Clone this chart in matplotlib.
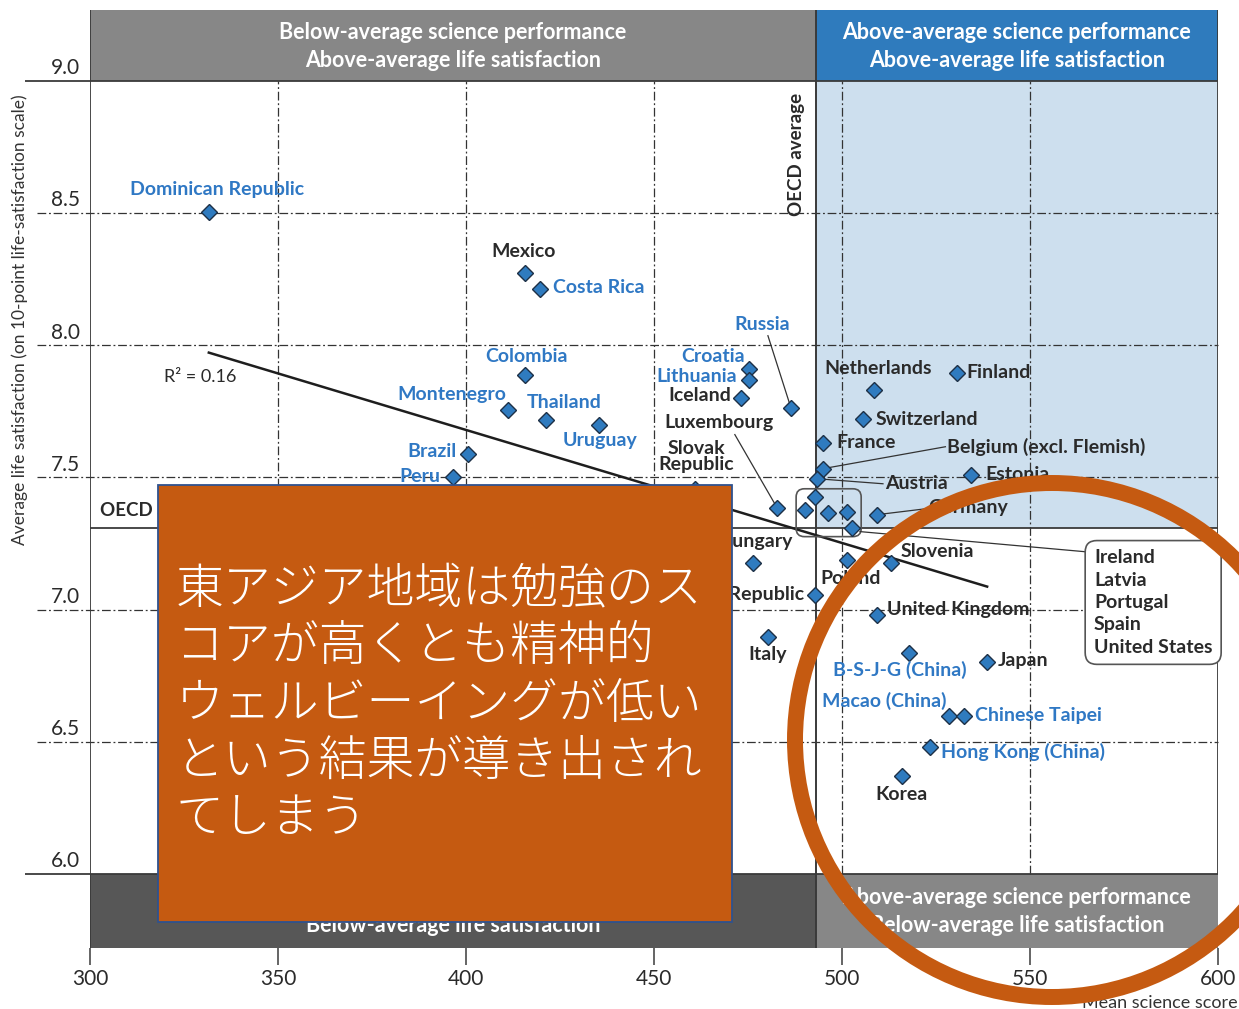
import matplotlib
matplotlib.use("Agg")
import matplotlib.pyplot as plt
from matplotlib.patches import Rectangle, Ellipse, FancyBboxPatch

plt.rcParams['font.family'] = ['Lato', 'DejaVu Sans']

# --- data (mean science score, average life satisfaction) ---
countries = ["Dominican Republic", "Mexico", "Costa Rica", "Colombia", "Montenegro",
             "Thailand", "Uruguay", "Brazil", "Peru", "Croatia", "Lithuania", "Iceland",
             "Russia", "Luxembourg", "Slovak Republic", "Hungary", "Czech Republic", "Italy",
             "Poland", "Slovenia", "Netherlands", "Finland", "Switzerland", "France",
             "Belgium (excl. Flemish)", "Austria", "Estonia", "Latvia", "Spain",
             "United States", "Portugal", "Ireland", "Germany", "United Kingdom",
             "B-S-J-G (China)", "Japan", "Macao (China)", "Chinese Taipei",
             "Hong Kong (China)", "Korea"]
science = [331.6, 415.7, 419.7, 415.7, 411.2,
           421.3, 435.4, 400.5, 396.5, 475.3, 475.3, 473.1,
           486.4, 482.7, 460.9, 476.3, 492.8, 480.3,
           501.3, 513.0, 508.5, 530.6, 505.6, 494.9,
           494.9, 493.4, 534.3, 490.2, 492.8,
           496.3, 501.3, 502.7, 509.3, 509.3,
           517.8, 538.6, 528.5, 532.4,
           523.4, 516.0]
satisfaction = [8.505, 8.274, 8.214, 7.888, 7.756,
                7.718, 7.699, 7.590, 7.503, 7.911, 7.870, 7.802,
                7.764, 7.386, 7.457, 7.178, 7.057, 6.898,
                7.189, 7.178, 7.832, 7.896, 7.722, 7.631,
                7.533, 7.495, 7.510, 7.378, 7.427,
                7.367, 7.370, 7.310, 7.359, 6.981,
                6.837, 6.800, 6.596, 6.596,
                6.482, 6.369]
partners = {"Dominican Republic", "Costa Rica", "Colombia", "Montenegro", "Thailand",
            "Uruguay", "Brazil", "Peru", "Croatia", "Lithuania", "Russia",
            "B-S-J-G (China)", "Macao (China)", "Chinese Taipei", "Hong Kong (China)"}
boxed = ["Ireland", "Latvia", "Portugal", "Spain", "United States"]

oecd_science = 493
oecd_satisfaction = 7.31
trend_x = [331.6, 538.6]
trend_y = [7.972, 7.087]
r_squared = 0.16

# label placement (x, y, ha)
label_pos = {
    "Dominican Republic": (333.8, 8.59, "center"),
    "Mexico": (415.2, 8.355, "center"),
    "Costa Rica": (423.1, 8.217, "left"),
    "Colombia": (416.2, 7.957, "center"),
    "Montenegro": (396.3, 7.815, "center"),
    "Thailand": (426.1, 7.783, "center"),
    "Uruguay": (435.6, 7.64, "center"),
    "Brazil": (397.6, 7.597, "right"),
    "Peru": (393.3, 7.503, "right"),
    "Russia": (478.7, 8.08, "center"),
    "Croatia": (465.7, 7.957, "center"),
    "Lithuania": (461.4, 7.88, "center"),
    "Iceland": (470.5, 7.81, "right"),
    "Luxembourg": (467.3, 7.707, "center"),
    "Slovak Republic": (461.2, 7.578, "center"),
    "Hungary": (476.9, 7.257, "center"),
    "Czech Republic": (489.9, 7.057, "right"),
    "Italy": (480.3, 6.83, "center"),
    "Poland": (502.4, 7.117, "center"),
    "Slovenia": (515.7, 7.219, "left"),
    "Netherlands": (509.6, 7.911, "center"),
    "Finland": (533.2, 7.896, "left"),
    "Switzerland": (508.8, 7.718, "left"),
    "France": (498.4, 7.631, "left"),
    "Belgium (excl. Flemish)": (527.9, 7.616, "left"),
    "Austria": (511.4, 7.476, "left"),
    "Estonia": (538.0, 7.51, "left"),
    "Germany": (522.9, 7.386, "left"),
    "United Kingdom": (512.0, 7.0, "left"),
    "B-S-J-G (China)": (515.4, 6.773, "center"),
    "Japan": (541.5, 6.807, "left"),
    "Macao (China)": (511.2, 6.656, "center"),
    "Chinese Taipei": (535.4, 6.599, "left"),
    "Hong Kong (China)": (526.3, 6.463, "left"),
    "Korea": (515.7, 6.301, "center"),
}
leaders = {
    "Russia": (480.3, 8.036),
    "Luxembourg": (471.5, 7.662),
    "Belgium (excl. Flemish)": (527.5, 7.616),
    "Austria": (510.9, 7.476),
    "Germany": (522.6, 7.382),
}

BLUE = "#2f78c4"
DARK = "#2a2a2a"
GRID = "#333333"
dash = (0, (7, 2.2, 1.5, 2.2))
LABEL_SIZE = 14

W, H = 1239, 1009
fig = plt.figure(figsize=(W / 100, H / 100), dpi=100)
ax = fig.add_axes([90 / W, 1 - 948 / H, 1128 / W, 938 / H])
ax.set_xlim(300, 600)
ax.set_ylim(5.72, 9.268)
for s in ax.spines.values():
    s.set_visible(False)

# quadrant shading and header/footer bands
ax.fill_between([oecd_science, 600], oecd_satisfaction, 9.0, color="#cddfee", lw=0, zorder=0)
ax.fill_between([300, oecd_science], 9.0, 9.268, color="#878787", lw=0, zorder=1)
ax.fill_between([oecd_science, 600], 9.0, 9.268, color="#2f7bbd", lw=0, zorder=1)
ax.fill_between([300, oecd_science], 5.72, 6.0, color="#575757", lw=0, zorder=1)
ax.fill_between([oecd_science, 600], 5.72, 6.0, color="#878787", lw=0, zorder=1)

band_kw = dict(color="white", fontsize=15.5, fontweight="bold", ha="center", va="center",
               linespacing=1.4, zorder=3)
ax.text((300 + oecd_science) / 2, 9.131,
        "Below-average science performance\nAbove-average life satisfaction", **band_kw)
ax.text((oecd_science + 600) / 2, 9.131,
        "Above-average science performance\nAbove-average life satisfaction", **band_kw)
ax.text((300 + oecd_science) / 2, 5.858,
        "Below-average science performance\nBelow-average life satisfaction", **band_kw)
ax.text((oecd_science + 600) / 2, 5.858,
        "Above-average science performance\nBelow-average life satisfaction", **band_kw)

# grid
for gx in [350, 400, 450, 500, 550]:
    ax.vlines(gx, 6.0, 9.0, colors=GRID, lw=0.9, linestyles=dash, zorder=2)
for gy in [6.5, 7.0, 7.5, 8.0, 8.5]:
    ax.hlines(gy, 285.9, 600, colors=GRID, lw=0.9, linestyles=dash, zorder=2, clip_on=False)
for gy in [6.0, 9.0]:
    ax.hlines(gy, 282.7, 600, colors="#3a3a3a", lw=1.3, zorder=3, clip_on=False)
for gy in [6.0, 6.5, 7.0, 7.5, 8.0, 8.5, 9.0]:
    ax.text(297.3, gy + 0.01, f"{gy:.1f}", ha="right", va="bottom", fontsize=15, color=DARK)

# frame and averages
ax.vlines(300, 5.72, 9.268, colors="#3a3a3a", lw=1.3, zorder=3)
ax.vlines(600, 6.0, 9.268, colors="#3a3a3a", lw=1.3, zorder=3)
ax.vlines(oecd_science, 5.72, 9.268, colors="#3a3a3a", lw=1.4, zorder=3)
ax.hlines(oecd_satisfaction, 300, 600, colors="#3a3a3a", lw=1.3, zorder=3)
ax.text(302.7, 7.374, "OECD average", fontsize=13.5, fontweight="bold", color=DARK,
        ha="left", va="center")
ax.text(487.8, 8.72, "OECD average", fontsize=13.5, fontweight="bold", color=DARK,
        rotation=90, ha="center", va="center")

# x ticks
ax.set_xticks([300, 350, 400, 450, 500, 550, 600])
ax.tick_params(axis="x", length=12, width=1.1, color="#3a3a3a", pad=3, labelsize=15,
               labelcolor=DARK)
ax.set_yticks([])

# trend line
ax.plot(trend_x, trend_y, color="#1e1e1e", lw=1.8, zorder=4)
ax.text(329.3, 7.881, f"R² = {r_squared:.2f}", fontsize=13, color=DARK, ha="center", va="center")

# points
ax.plot(science, satisfaction, "D", ms=8, mfc="#2f7bbf", mec="#1d3046", mew=1, ls="none", zorder=6)

# labels
for name in countries:
    if name not in label_pos:
        continue
    lx, ly, ha = label_pos[name]
    txt = "Slovak\nRepublic" if name == "Slovak Republic" else name
    ax.text(lx, ly, txt, ha=ha, va="center", fontsize=LABEL_SIZE, fontweight="bold",
            color=BLUE if name in partners else DARK, linespacing=0.95, zorder=7)
    if name in leaders:
        i = countries.index(name)
        ax.plot([leaders[name][0], science[i]], [leaders[name][1], satisfaction[i]],
                color=GRID, lw=0.9, zorder=5)

# boxed cluster
cluster = FancyBboxPatch((487.8, 7.276), 17.3, 0.181,
                         boxstyle="round,pad=0,rounding_size=2.2", mutation_aspect=0.0142,
                         fc="none", ec="#555555", lw=1.2, zorder=5)
ax.add_patch(cluster)
ax.plot([504.8, 564.6], [7.295, 7.219], color=GRID, lw=0.9, zorder=5)
ax.text(567.0, 7.228, "\n".join(boxed), ha="left", va="top", fontsize=LABEL_SIZE, fontweight="bold",
        color=DARK, linespacing=1.38, zorder=7,
        bbox=dict(boxstyle="round,pad=0.45,rounding_size=0.6", fc="white", ec="#555555", lw=1.2))

# axis titles
fig.text(20 / W, 1 - 320 / H, "Average life satisfaction (on 10-point life-satisfaction scale)",
         rotation=90, ha="center", va="center", fontsize=12.5, color="#333333")
fig.text(1 - 1 / W, 1 - 1003 / H, "Mean science score", ha="right", va="center",
         fontsize=13, color="#333333")

# overlay: annotation box and circle
ORANGE = "#c55a11"
fig.add_artist(Rectangle((158 / W, 1 - 922 / H), 574 / W, 437 / H, transform=fig.transFigure,
                         fc=ORANGE, ec="#2f528f", lw=1.3, zorder=20))
fig.text(176 / W, 1 - 565 / H,
         "東アジア地域は勉強のス\nコアが高くとも精神的\nウェルビーイングが低い\nという結果が導き出され\nてしまう",
         ha="left", va="top", fontsize=34.5, color="white", linespacing=1.22,
         family=["Noto Sans CJK JP", "DejaVu Sans"], fontweight="light", zorder=21)
fig.add_artist(Ellipse((1052 / W, 1 - 740 / H), 2 * 257 / W, 2 * 257 / H,
                       transform=fig.transFigure, fc="none", ec=ORANGE, lw=11.5, zorder=20))

fig.savefig("out.png", dpi=100)
